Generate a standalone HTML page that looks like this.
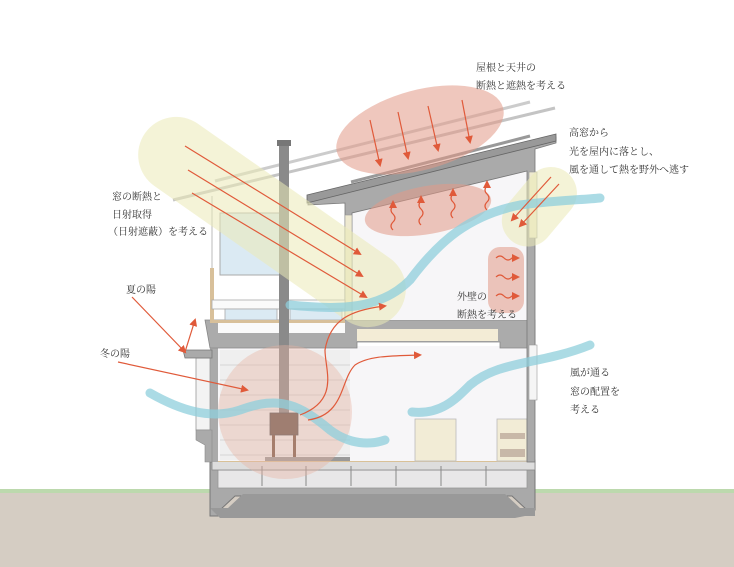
<!DOCTYPE html>
<html><head><meta charset="utf-8"><style>
body{margin:0;background:#fff}
svg{display:block}
text{font-family:"Liberation Serif","Noto Serif CJK SC",serif;font-size:10px;fill:#333}
</style></head><body>
<svg width="734" height="567" viewBox="0 0 734 567" xmlns="http://www.w3.org/2000/svg">
<defs><marker id="a" markerWidth="8" markerHeight="8" refX="6" refY="4" orient="auto" markerUnits="userSpaceOnUse"><path d="M0,0 L8,4 L0,8 z" fill="#e05a3a"/></marker></defs>
<rect x="0" y="492" width="734" height="75" fill="#d5cdc3"/>
<rect x="0" y="489" width="734" height="4" fill="#bcd9ad"/>
<path d="M210,462 H535 V510 H527 L512,496 H235 L220,510 V516 H210 Z" fill="#a9a9a9" stroke="#777" stroke-width="1"/>
<path d="M210,508 H228 L243,494 H505 L520,508 H535 V516 H525 L515,518 H220 Z" fill="#999"/>
<rect x="218" y="470" width="309" height="18" fill="#e8e7e8" stroke="#999" stroke-width=".8"/>
<rect x="212" y="460" width="323" height="10" fill="#ddd" stroke="#888" stroke-width=".8"/>
<line x1="212" y1="461" x2="535" y2="461" stroke="#d8b880" stroke-width="1.5"/>
<g stroke="#888" stroke-width="1"><line x1="262" y1="466" x2="262" y2="486"/><line x1="306" y1="466" x2="306" y2="486"/><line x1="351" y1="466" x2="351" y2="486"/><line x1="396" y1="466" x2="396" y2="486"/><line x1="441" y1="466" x2="441" y2="486"/><line x1="486" y1="466" x2="486" y2="486"/></g>
<rect x="218" y="346" width="309" height="115" fill="#f7f6f8"/>
<rect x="220" y="350" width="130" height="110" fill="#efefef"/>
<g stroke="#ccc" stroke-width=".8" fill="none">
<path d="M220,365H350M220,380H350M220,395H350M220,410H350M220,425H350M220,440H350M220,455H350"/>
</g>
<rect x="210" y="346" width="8" height="116" fill="#aaa"/>
<rect x="196" y="358" width="14" height="72" fill="#f3f3f3" stroke="#999" stroke-width=".8"/>
<path d="M196,430 H212 V462 H205 V445 L196,440 Z" fill="#aaa" stroke="#888" stroke-width=".6"/>
<path d="M183,350 H212 V358 H185 Z" fill="#aaa" stroke="#777" stroke-width=".8"/>
<rect x="415" y="419" width="41" height="42" fill="#f2ecd6" stroke="#bbb" stroke-width=".8"/>
<rect x="497" y="419" width="30" height="42" fill="#f2ecd6" stroke="#bbb" stroke-width=".8"/>
<rect x="500" y="433" width="25" height="6" fill="#c8b8a8"/><rect x="500" y="449" width="25" height="8" fill="#c8b8a8"/>
<path d="M205,320 H535 V348 H500 V342 H357 V348 H210 Z" fill="#ababab" stroke="#888" stroke-width=".8"/>
<rect x="218" y="323" width="127" height="10" fill="#fafafa"/>
<rect x="357" y="329" width="141" height="12" fill="#f3ecd6"/>
<path d="M352,213 L527,171 V320 H352 Z" fill="#f7f6f8"/>
<path d="M308,197 L556,137 L556,143 L535,149 L535,462 L527,462 L527,171 L352,213 L352,320 L345,320 L345,203 L308,205 Z" fill="#aaa" stroke="#777" stroke-width=".8"/>
<path d="M307,195 L556,134 L556,141 L307,203 Z" fill="#999" stroke="#666" stroke-width=".8"/>
<rect x="345" y="215" width="7" height="105" fill="#eee9d0" stroke="#999" stroke-width=".6"/>
<rect x="529" y="172" width="8" height="66" fill="#eee9d0" stroke="#999" stroke-width=".6"/>
<rect x="529" y="345" width="8" height="55" fill="#f5f5f5" stroke="#999" stroke-width=".6"/>
<line x1="351" y1="182" x2="530" y2="136" stroke="#999" stroke-width="3"/>
<line x1="215" y1="181" x2="530" y2="102" stroke="#ccc" stroke-width="3"/>
<line x1="173" y1="200" x2="555" y2="108" stroke="#c4c4c4" stroke-width="3"/>
<line x1="212" y1="196" x2="212" y2="300" stroke="#aaa" stroke-width=".8"/>
<rect x="220" y="213" width="60" height="62" fill="#dbeaf3" stroke="#aaa" stroke-width="1"/>
<rect x="210" y="268" width="4" height="54" fill="#d8c09a"/>
<rect x="212" y="300" width="133" height="9" fill="#fafafa" stroke="#aaa" stroke-width=".8"/>
<rect x="225" y="309" width="52" height="11" fill="#dbeaf3" stroke="#aaa" stroke-width=".8"/>
<rect x="290" y="309" width="52" height="11" fill="#dbeaf3" stroke="#aaa" stroke-width=".8"/>
<rect x="210" y="320" width="135" height="3" fill="#d8c09a"/>
<rect x="279" y="142" width="10" height="280" fill="#8a8a8a"/>
<rect x="277" y="140" width="14" height="6" fill="#777"/>
<rect x="270" y="413" width="28" height="22" fill="#6e5a50" stroke="#555" stroke-width=".8"/>
<rect x="272" y="435" width="3" height="22" fill="#7a5a4a"/><rect x="293" y="435" width="3" height="22" fill="#7a5a4a"/>
<rect x="265" y="457" width="85" height="4" fill="#999"/>
<g opacity=".55">
<rect x="117" y="184" width="310" height="76" rx="38" fill="#ecebb8" transform="rotate(35 272 222)"/>
<rect x="495" y="180" width="88" height="52" rx="26" fill="#ecebb8" transform="rotate(-50 540 206)"/>
<ellipse cx="420" cy="130" rx="86" ry="40" fill="#e39a88" transform="rotate(-15 420 130)"/>
<ellipse cx="428" cy="210" rx="64" ry="24" fill="#e39a88" transform="rotate(-10 428 210)"/>
<rect x="488" y="247" width="36" height="66" rx="12" fill="#e39a88"/>
</g>
<circle cx="285" cy="412" r="67" fill="#e9b4a2" opacity=".4"/>
<g fill="none" stroke="#8fcfdc" stroke-width="9" stroke-linecap="round" opacity=".75">
<path d="M290,305 C340,310 380,310 410,280 C440,240 470,215 520,205 C560,200 580,200 600,198"/>
<path d="M150,393 C180,410 210,420 240,410 C280,395 300,405 330,430 C350,445 370,445 385,440"/>
<path d="M412,412 C440,415 455,400 470,385 C500,360 540,365 590,345"/>
</g>
<g stroke="#e05a3a" stroke-width="1.2" fill="none" marker-end="url(#a)">
<path d="M370,120 L380,165"/><path d="M398,112 L408,158"/><path d="M428,106 L438,150"/><path d="M462,100 L470,142"/>
<path d="M393,230 q-4,-4 0,-8 q4,-4 0,-8 q-4,-4 0,-8 l0,-4"/>
<path d="M421,225 q-4,-4 0,-8 q4,-4 0,-8 q-4,-4 0,-8 l0,-4"/>
<path d="M453,218 q-4,-4 0,-8 q4,-4 0,-8 q-4,-4 0,-8 l0,-4"/>
<path d="M487,210 q-4,-4 0,-8 q4,-4 0,-8 q-4,-4 0,-8 l0,-4"/>
<path d="M496,258 q4,-4 8,0 q4,4 8,0 l6,0"/><path d="M496,277 q4,-4 8,0 q4,4 8,0 l6,0"/><path d="M496,296 q4,-4 8,0 q4,4 8,0 l6,0"/>
<path d="M185,146 L360,254"/><path d="M188,170 L362,276"/><path d="M192,193 L366,297"/>
<path d="M551,177 L512,220"/><path d="M559,184 L520,226"/>
<path d="M132,297 L185,352"/><path d="M185,352 L195,320"/>
<path d="M118,362 L247,390"/>
<path d="M300,415 C340,400 325,370 325,350 C330,320 350,310 385,306"/>
<path d="M308,420 C345,415 340,380 355,365 C370,355 395,356 420,355"/>
</g>
<text x="476" y="71">屋根と天井の</text><text x="476" y="89">断熱と遮熱を考える</text>
<text x="569" y="136">高窓から</text><text x="569" y="155">光を屋内に落とし、</text><text x="569" y="173">風を通して熱を野外へ逃す</text>
<text x="112" y="200">窓の断熱と</text><text x="112" y="218">日射取得</text><text x="108" y="235">（日射遮蔽）を考える</text>
<text x="126" y="293">夏の陽</text><text x="100" y="357">冬の陽</text>
<text x="457" y="300">外壁の</text><text x="457" y="318">断熱を考える</text>
<text x="570" y="376">風が通る</text><text x="570" y="395">窓の配置を</text><text x="570" y="413">考える</text>
</svg>
</body></html>
